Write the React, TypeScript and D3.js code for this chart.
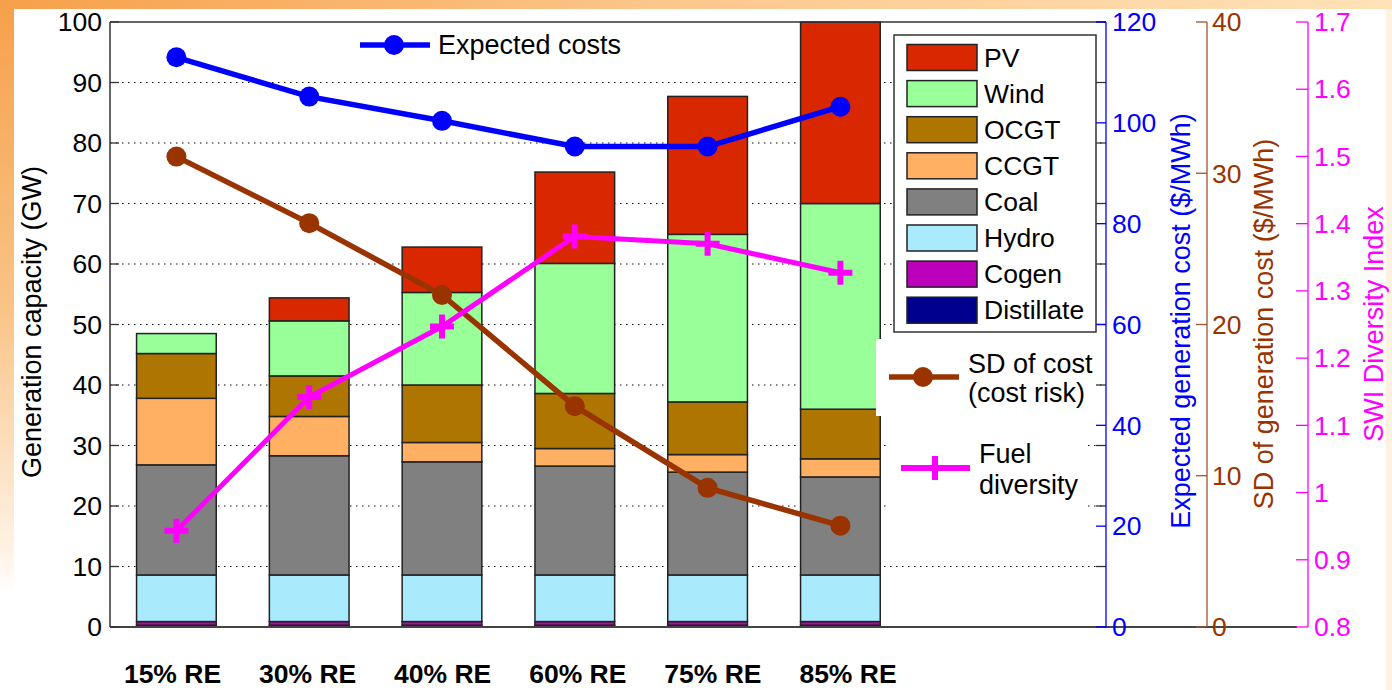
import React from "react";
import * as d3 from "d3";

// scenarios on the x axis
const categories = ["15% RE", "30% RE", "40% RE", "60% RE", "75% RE", "85% RE"];

// installed capacity by technology (GW), bottom of stack first
const distillate = [0.3, 0.3, 0.3, 0.3, 0.3, 0.3];
const cogen = [0.6, 0.6, 0.6, 0.6, 0.6, 0.6];
const hydro = [7.7, 7.7, 7.7, 7.7, 7.7, 7.7];
const coal = [18.2, 19.7, 18.7, 18.0, 17.0, 16.2];
const ccgt = [11.0, 6.5, 3.2, 2.9, 2.9, 3.0];
const ocgt = [7.4, 6.7, 9.5, 9.1, 8.7, 8.2];
const wind = [3.3, 9.1, 15.3, 21.5, 27.7, 34.0];
const pv = [0, 3.8, 7.5, 15.1, 22.8, 30.0];

const techNames = ["Distillate", "Cogen", "Hydro", "Coal", "CCGT", "OCGT", "Wind", "PV"];
const techSeries = [distillate, cogen, hydro, coal, ccgt, ocgt, wind, pv];
const techColors = ["#00008F", "#BB00BB", "#A9EBFC", "#808080", "#FFB062", "#AE7600", "#99FF99", "#D92800"];

// right-hand series
const expectedCost = [113.0, 105.2, 100.4, 95.3, 95.3, 103.2]; // $/MWh
const sdCost = [31.1, 26.7, 21.95, 14.6, 9.2, 6.7]; // $/MWh
const diversity = [0.943, 1.142, 1.247, 1.381, 1.37, 1.327]; // SWI index

// tick values
const leftTicks = [0, 10, 20, 30, 40, 50, 60, 70, 80, 90, 100];
const blueTicks = [0, 20, 40, 60, 80, 100, 120];
const brownTicks = [0, 10, 20, 30, 40];
const pinkTicks = [0.8, 0.9, 1.0, 1.1, 1.2, 1.3, 1.4, 1.5, 1.6, 1.7];

const W = 1392;
const H = 690;
const L = 110;
const R = 1106;
const T = 22;
const B = 627;
const FONT = "'Liberation Sans', Arial, Helvetica, sans-serif";

const BLUE = "#0000FF";
const BROWN = "#993300";
const PINK = "#FF00FF";

export default function App() {
  const x = d3.scaleLinear().domain([0.5, 8]).range([L, R]);
  const labelX = d3.scaleLinear().domain([1, 6]).range([172.5, 848]);
  const y = d3.scaleLinear().domain([0, 100]).range([B, T]);
  const yBlue = d3.scaleLinear().domain([0, 120]).range([B, T]);
  const yBrown = d3.scaleLinear().domain([0, 40]).range([B, T]);
  const yPink = d3.scaleLinear().domain([0.8, 1.7]).range([B, T]);

  const rows = categories.map((c, i) => {
    const r: any = { cat: c };
    techNames.forEach((t, k) => (r[t] = techSeries[k][i]));
    return r;
  });
  const stacked = d3.stack().keys(techNames)(rows);
  const barW = x(1.6) - x(1);

  const blueLine = d3.line<number>().x((_, i) => x(i + 1)).y((d) => yBlue(d));
  const brownLine = d3.line<number>().x((_, i) => x(i + 1)).y((d) => yBrown(d));
  const pinkLine = d3.line<number>().x((_, i) => x(i + 1)).y((d) => yPink(d));

  const fmt = (v: number) => String(+v.toFixed(1));
  const legendItems = techNames.map((n, i) => ({ n, c: techColors[i] })).reverse();

  return (
    <svg
      width={W}
      height={H}
      style={{ position: "fixed", left: 0, top: 0, fontFamily: FONT }}
    >
      <defs>
        <linearGradient id="topg" x1="0" x2="1" y1="0" y2="0">
          <stop offset="0" stopColor="#F6A04A" />
          <stop offset="0.5" stopColor="#FDC88E" />
          <stop offset="1" stopColor="#FFE2B8" />
        </linearGradient>
        <linearGradient id="leftg" x1="0" x2="0" y1="0" y2="1">
          <stop offset="0" stopColor="#F6A04A" />
          <stop offset="0.45" stopColor="#F9C488" />
          <stop offset="0.8" stopColor="#FFF3E6" />
          <stop offset="0.86" stopColor="#FFFFFF" />
        </linearGradient>
      </defs>

      <rect width={W} height={H} fill="#fff" />
      <rect x={0} y={0} width={W} height={9} fill="url(#topg)" />
      <rect x={0} y={0} width={14} height={H} fill="url(#leftg)" />
      <rect x={1386} y={9} width={6} height={H} fill="#FDF1E2" />

      {/* dotted grid */}
      {leftTicks
        .filter((t) => t > 0 && t < 100)
        .map((t) => (
          <line
            key={"g" + t}
            x1={L}
            x2={R}
            y1={y(t)}
            y2={y(t)}
            stroke="#111"
            strokeWidth={1.2}
            strokeDasharray="1.5,4.5"
          />
        ))}

      {/* stacked bars */}
      {stacked.map((layer, k) =>
        layer.map((d, i) =>
          d[1] - d[0] > 0 ? (
            <rect
              key={techNames[k] + i}
              x={x(i + 1) - barW / 2}
              y={y(d[1])}
              width={barW}
              height={y(d[0]) - y(d[1])}
              fill={techColors[k]}
              stroke="#222"
              strokeWidth={1.5}
            />
          ) : null
        )
      )}

      {/* legend white backgrounds for line legends */}
      <rect x={876} y={339} width={224} height={77} fill="#fff" />
      <rect x={888} y={420} width={200} height={110} fill="#fff" />

      {/* main box */}
      <line x1={L} x2={R} y1={T} y2={T} stroke="#333" strokeWidth={1.5} />
      <line x1={L} x2={L} y1={T} y2={B} stroke="#333" strokeWidth={1.5} />
      <line x1={L} x2={1297} y1={B} y2={B} stroke="#444" strokeWidth={2} />
      {leftTicks.map((t) => (
        <g key={"lt" + t}>
          <line x1={L} x2={L + 9} y1={y(t)} y2={y(t)} stroke="#333" strokeWidth={1.3} />
          <line x1={R - 10} x2={R} y1={y(t)} y2={y(t)} stroke="#333" strokeWidth={1.3} />
          <text x={L - 8} y={y(t)} dy="0.35em" textAnchor="end" fontSize={26.5} fill="#000">
            {t}
          </text>
        </g>
      ))}

      {/* blue axis */}
      <line x1={R} x2={R} y1={T} y2={B} stroke={BLUE} strokeWidth={1.3} />
      {blueTicks.map((t) => (
        <g key={"bt" + t}>
          <line x1={R - 10} x2={R} y1={yBlue(t)} y2={yBlue(t)} stroke={BLUE} strokeWidth={1.3} />
          <text x={R + 6} y={yBlue(t)} dy="0.35em" fontSize={26.5} fill={BLUE}>
            {t}
          </text>
        </g>
      ))}

      {/* brown axis */}
      <line x1={1207} x2={1207} y1={T} y2={B} stroke="#A0522D" strokeWidth={1.3} />
      {brownTicks.map((t) => (
        <g key={"brt" + t}>
          <line x1={1196} x2={1207} y1={yBrown(t)} y2={yBrown(t)} stroke="#A0522D" strokeWidth={1.3} />
          <text x={1212} y={yBrown(t)} dy="0.35em" fontSize={26.5} fill={BROWN}>
            {t}
          </text>
        </g>
      ))}

      {/* magenta axis */}
      <line x1={1308} x2={1308} y1={T} y2={B} stroke={PINK} strokeWidth={1.3} />
      {pinkTicks.map((t) => (
        <g key={"pt" + t}>
          <line x1={1296} x2={1308} y1={yPink(t)} y2={yPink(t)} stroke={PINK} strokeWidth={1.3} />
          <text x={1314} y={yPink(t)} dy="0.35em" fontSize={26.5} fill={PINK}>
            {fmt(t)}
          </text>
        </g>
      ))}

      {/* category labels */}
      {categories.map((c, i) => (
        <text
          key={c}
          x={labelX(i + 1)}
          y={683}
          textAnchor="middle"
          fontSize={26.5}
          fontWeight="bold"
          fill="#000"
        >
          {c}
        </text>
      ))}

      {/* axis titles */}
      <text transform="translate(41,322) rotate(-90)" textAnchor="middle" fontSize={27} fill="#000">
        Generation capacity (GW)
      </text>
      <text transform="translate(1190,321) rotate(-90)" textAnchor="middle" fontSize={27} fill={BLUE}>
        Expected generation cost ($/MWh)
      </text>
      <text transform="translate(1273,324) rotate(-90)" textAnchor="middle" fontSize={27} fill={BROWN}>
        SD of generation cost ($/MWh)
      </text>
      <text transform="translate(1383,324) rotate(-90)" textAnchor="middle" fontSize={27} fill={PINK}>
        SWI Diversity Index
      </text>

      {/* lines */}
      <path d={blueLine(expectedCost) || ""} fill="none" stroke={BLUE} strokeWidth={5.5} />
      {expectedCost.map((v, i) => (
        <circle key={"bc" + i} cx={x(i + 1)} cy={yBlue(v)} r={10} fill={BLUE} />
      ))}
      <path d={brownLine(sdCost) || ""} fill="none" stroke={BROWN} strokeWidth={5.5} />
      {sdCost.map((v, i) => (
        <circle key={"brc" + i} cx={x(i + 1)} cy={yBrown(v)} r={10} fill={BROWN} />
      ))}
      <path d={pinkLine(diversity) || ""} fill="none" stroke={PINK} strokeWidth={5} />
      {diversity.map((v, i) => (
        <path
          key={"pp" + i}
          transform={`translate(${x(i + 1)},${yPink(v)})`}
          d="M-12,0H12M0,-12V12"
          stroke={PINK}
          strokeWidth={6}
        />
      ))}

      {/* Expected costs legend */}
      <line x1={360} x2={430} y1={45} y2={45} stroke={BLUE} strokeWidth={5.5} />
      <circle cx={394} cy={45} r={10} fill={BLUE} />
      <text x={438} y={45} dy="0.35em" fontSize={27} fill="#000">
        Expected costs
      </text>

      {/* technology legend */}
      <rect x={894} y={35} width={202} height={297} fill="#fff" stroke="#333" strokeWidth={1.5} />
      {legendItems.map((it, i) => {
        const cy = 57.5 + i * 36.1;
        return (
          <g key={"lg" + it.n}>
            <rect x={907} y={cy - 13} width={70} height={26} fill={it.c} stroke="#222" strokeWidth={1.5} />
            <text x={984} y={cy} dy="0.35em" fontSize={26.5} fill="#000">
              {it.n}
            </text>
          </g>
        );
      })}

      {/* SD legend */}
      <line x1={889} x2={959} y1={377} y2={377} stroke={BROWN} strokeWidth={5.5} />
      <circle cx={923} cy={377} r={10} fill={BROWN} />
      <text x={968} y={373} fontSize={27} fill="#000">
        SD of cost
      </text>
      <text x={968} y={402} fontSize={27} fill="#000">
        (cost risk)
      </text>

      {/* diversity legend */}
      <line x1={901} x2={970} y1={468} y2={468} stroke={PINK} strokeWidth={6} />
      <path d="M935,456V480" stroke={PINK} strokeWidth={6} />
      <text x={979} y={463} fontSize={27} fill="#000">
        Fuel
      </text>
      <text x={979} y={494} fontSize={27} fill="#000">
        diversity
      </text>
    </svg>
  );
}
